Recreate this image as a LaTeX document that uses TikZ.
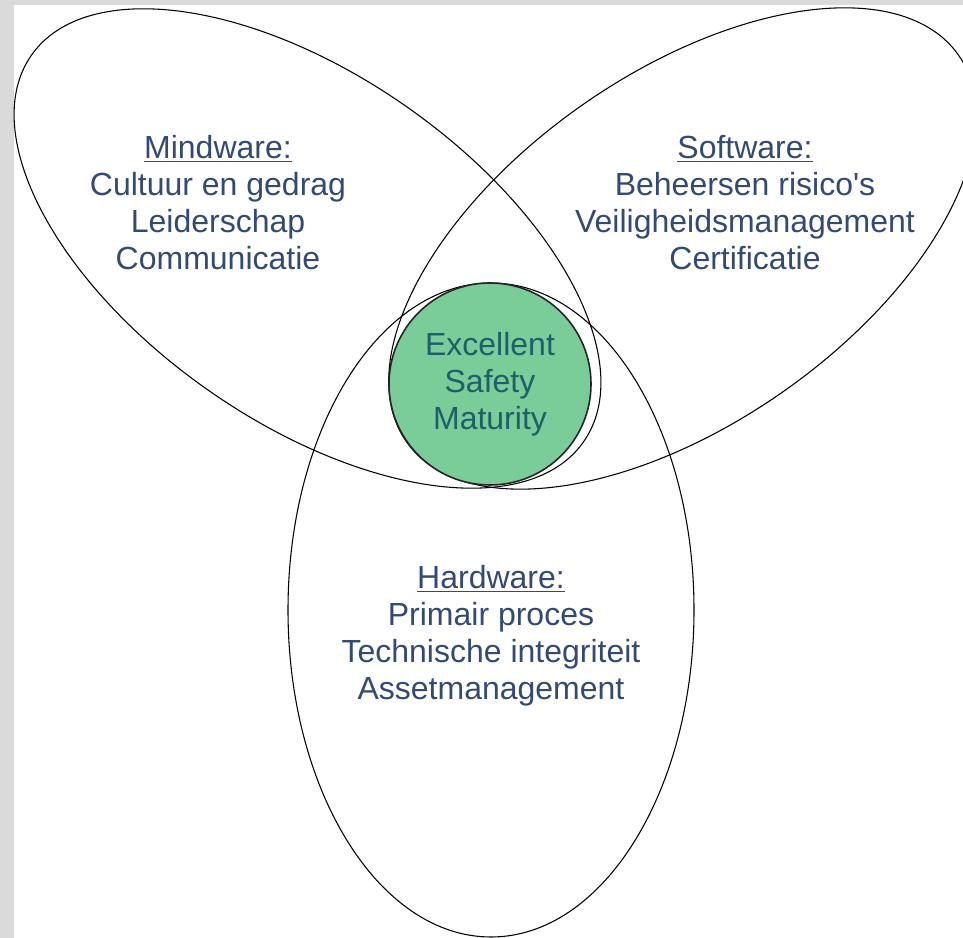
\documentclass[tikz,border=0pt]{standalone}
\usepackage{fontspec}
\setmainfont{Liberation Sans}
\usepackage{xcolor}

\definecolor{venntext}{RGB}{52,74,115}
\definecolor{coretext}{RGB}{30,95,105}
\definecolor{coregreen}{RGB}{122,205,152}
\definecolor{backgrey}{RGB}{218,218,218}

\begin{document}
\begin{tikzpicture}[x=0.75pt, y=0.75pt,
  ring/.style={draw=black, line width=0.8pt},
  areatext/.style={anchor=base, align=center, text=venntext, font=\fontsize{24}{27.75}\selectfont}]
\useasboundingbox (0,0) rectangle (963,938);
\fill[backgrey] (0,0) rectangle (963,938);
\fill[white] (14,0) rectangle (963,933);

% the three fields
\draw[ring, rotate around={-35:(307.5,689.5)}] (307.5,689.5) ellipse [x radius=337, y radius=173];
\draw[ring, rotate around={35:(682.5,689.5)}] (682.5,689.5) ellipse [x radius=337, y radius=175];
\draw[ring] (491,328) ellipse [x radius=203, y radius=327];

% core
\node[circle, draw=black!85, line width=1.2pt, fill=coregreen, minimum size=151.5pt, inner sep=0pt,
  align=center, text=coretext, font=\fontsize{24}{27.75}\selectfont] (core) at (490,554) {Excellent\\Safety\\Maturity};

% base = last line
\node[areatext] (mind) at (218,668) {\underline{Mindware:}\\Cultuur en gedrag\\Leiderschap\\Communicatie};
\node[areatext] (soft) at (745,668) {\underline{Software:}\\Beheersen risico\textquotesingle s\\Veiligheidsmanagement\\Certificatie};
\node[areatext] (hard) at (491,238) {\underline{Hardware:}\\Primair proces\\Technische integriteit\\Assetmanagement};
\end{tikzpicture}
\end{document}
